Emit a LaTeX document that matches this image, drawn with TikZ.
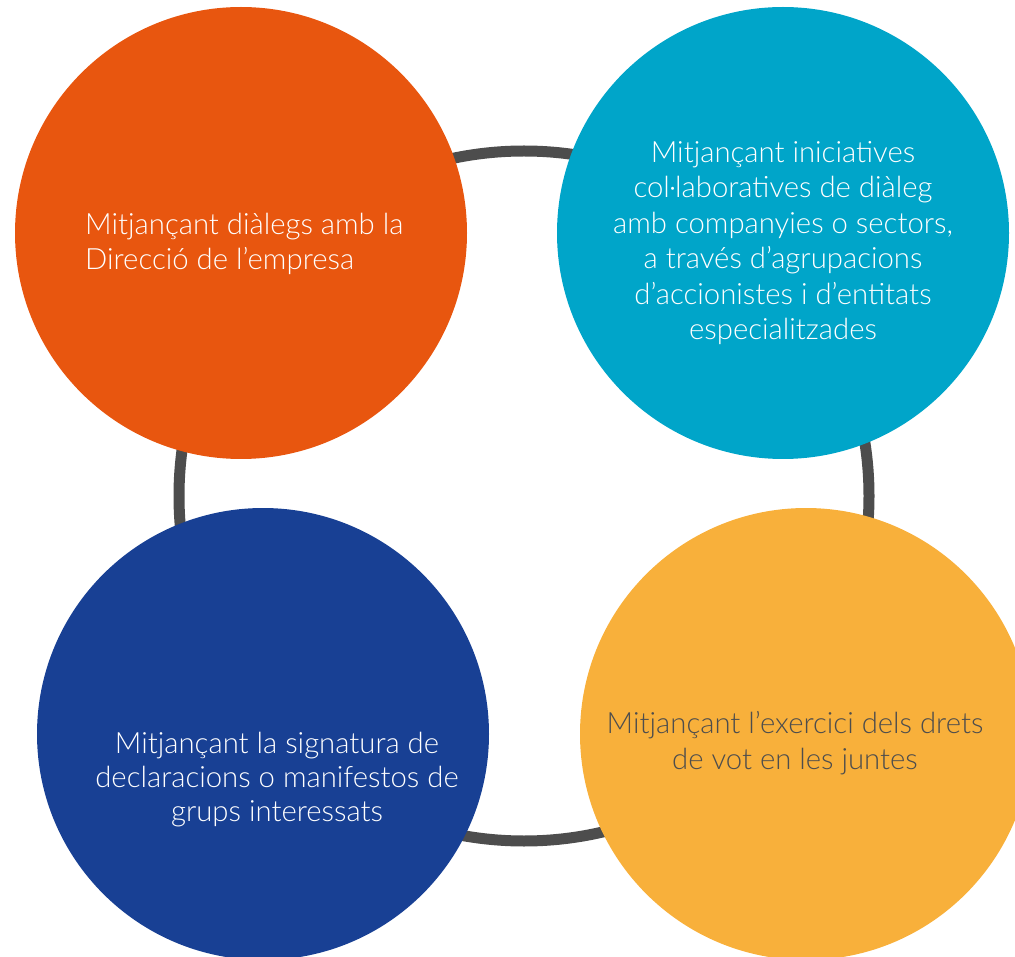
\documentclass[tikz,border=0pt]{standalone}
\usepackage{fontspec}
\setmainfont{Lato Light}
\definecolor{corange}{HTML}{E8560F}
\definecolor{cteal}{HTML}{00A5C9}
\definecolor{cblue}{HTML}{184094}
\definecolor{cyellow}{HTML}{F8B03B}
\definecolor{cring}{HTML}{4D4D4D}
\begin{document}
\begin{tikzpicture}[x=1pt,y=-1pt,
  disc/.style={circle,inner sep=0pt,minimum size=452pt,draw=none},
  label/.style={inner sep=0pt,font=\fontsize{29.3}{35.4}\selectfont,align=center}]
\useasboundingbox (0,0) rectangle (1015,957);
\clip (0,0) rectangle (1015,957);
\node[circle,inner sep=0pt,minimum size=690pt,draw=cring,line width=11pt] (ring) at (524,496) {};
\node[disc,fill=corange] (o) at (241,233) {};
\node[disc,fill=cteal] (t) at (783,233) {};
\node[disc,fill=cblue] (b) at (263,734) {};
\node[disc,fill=cyellow] (y) at (806,734) {};
\node[label,align=left,anchor=west,text=white] (ot) at (85,244) {Mitjançant diàlegs amb la\\Direcció de l’empresa};
\node[label,text=white] (tt) at (783,243) {Mitjançant iniciatives\\col·laboratives de diàleg\\amb companyies o sectors,\\a través d’agrupacions\\d’accionistes i d’entitats\\especialitzades};
\node[label,font=\fontsize{29.3}{34}\selectfont,text=white] (bt) at (277,780) {Mitjançant la signatura de\\declaracions o manifestos de\\grups interessats};
\node[label,text=cring] (yt) at (795,743) {Mitjançant l’exercici dels drets\\de vot en les juntes};
\end{tikzpicture}
\end{document}
